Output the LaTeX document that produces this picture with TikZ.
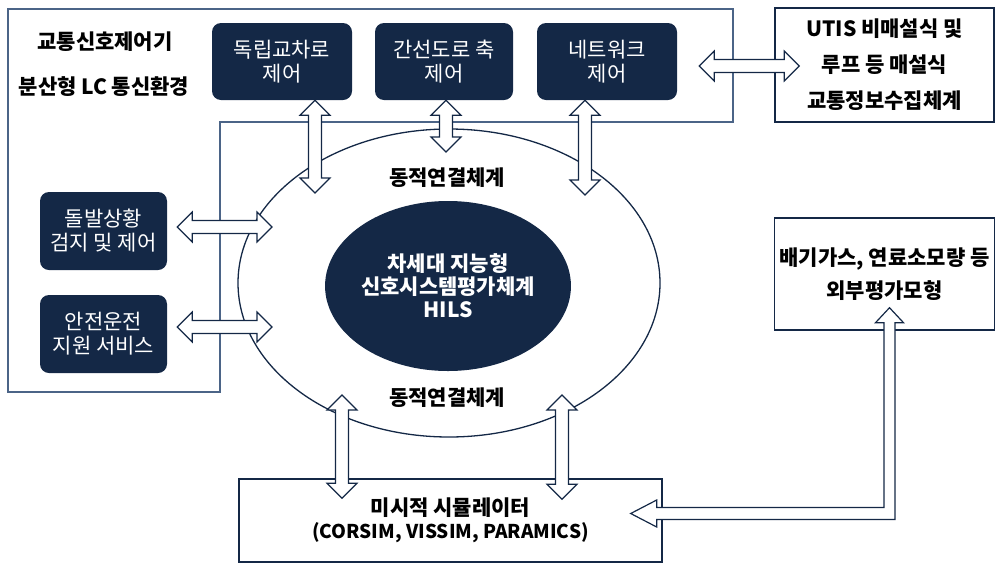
\documentclass[tikz,border=0pt]{standalone}
\usepackage{fontspec}
\setmainfont{Noto Sans CJK KR}
\usetikzlibrary{calc, shapes.geometric}
\definecolor{navy}{RGB}{20,40,70}
\definecolor{framegray}{RGB}{75,100,135}

% double block arrow between two named points
\newcommand{\blockarrow}[2]{%
  \draw[blockedge] (#1) -- ($(#1)!15pt!(#2)!15pt!90:(#2)$) -- ($(#1)!15pt!(#2)!6.5pt!90:(#2)$)
    -- ($(#2)!15pt!(#1)!6.5pt!-90:(#1)$) -- ($(#2)!15pt!(#1)!15pt!-90:(#1)$) -- (#2)
    -- ($(#2)!15pt!(#1)!15pt!90:(#1)$) -- ($(#2)!15pt!(#1)!6.5pt!90:(#1)$)
    -- ($(#1)!15pt!(#2)!6.5pt!-90:(#2)$) -- ($(#1)!15pt!(#2)!15pt!-90:(#2)$) -- cycle;}

\begin{document}
\begin{tikzpicture}[x=1pt, y=-1pt, font=\fontsize{21}{24}\selectfont]
        \tikzset{ctrlbox/.style = {fill=navy, rounded corners=9pt, text=white, align=center,
            minimum width=140, minimum height=77, inner sep=0pt}}
        \tikzset{plainbox/.style = {draw=navy, line width=1.4pt, align=center, inner sep=0pt,
            font=\fontsize{21}{24}\selectfont\bfseries}}
        \tikzset{blockedge/.style = {draw=navy, fill=white, line width=1.2pt, line join=miter}}
        \tikzset{frame/.style = {draw=framegray, line width=1.5pt}}
        \useasboundingbox (0,0) rectangle (995,563);

        % controller environment
        \draw[frame] (8,9) -- (733,9) -- (733,122) -- (220,122) -- (220,392) -- (8,392) -- cycle;
        \node[font=\fontsize{21}{24}\selectfont\bfseries] (ctrl) at (105,42) {교통신호제어기};
        \node[font=\fontsize{21}{24}\selectfont\bfseries] (lc) at (104,87) {분산형 LC 통신환경};

        % rings
        \node[ellipse, draw=navy, line width=1.3pt, minimum width=422, minimum height=308] (ring) at (449,283) {};
        \node[ellipse, fill=navy, text=white, align=center, inner sep=0pt, minimum width=236, minimum height=170,
            font=\fontsize{21}{23}\selectfont\bfseries] (core) at (448,286) {차세대 지능형\\신호시스템평가체계\\HILS};
        \node[font=\fontsize{21}{24}\selectfont\bfseries] (linkt) at (447,178) {동적연결체계};
        \node[font=\fontsize{21}{24}\selectfont\bfseries] (linkb) at (447,398) {동적연결체계};

        % control boxes
        \node[ctrlbox] (indep) at (282,61.5) {독립교차로\\제어};
        \node[ctrlbox, minimum width=138] (artery) at (444,61.5) {간선도로 축\\제어};
        \node[ctrlbox] (network) at (607,61.5) {네트워크\\제어};
        \node[ctrlbox, minimum width=127, minimum height=78] (incident) at (103.5,231) {돌발상황\\검지 및 제어};
        \node[ctrlbox, minimum width=127, minimum height=78] (safety) at (103.5,334) {안전운전\\지원 서비스};

        % outside boxes
        \node[plainbox, minimum width=219, minimum height=114, font=\fontsize{21}{36}\selectfont\bfseries] (utis) at (884.5,65)
            {UTIS 비매설식 및\\루프 등 매설식\\교통정보수집체계};
        \node[plainbox, minimum width=220, minimum height=112, font=\fontsize{21}{33}\selectfont\bfseries] (extern) at (884.5,274)
            {배기가스, 연료소모량 등\\외부평가모형};
        \node[plainbox, minimum width=423, minimum height=83, font=\fontsize{21}{23}\selectfont\bfseries] (sim) at (450.5,520.5)
            {미시적 시뮬레이터\\\fontsize{19}{23}\selectfont(CORSIM, VISSIM, PARAMICS)};

        % arrow ends
        \coordinate (d1) at (315,193);
        \coordinate (d2) at (446,152);
        \coordinate (d3) at (585,195);
        \coordinate (l1s) at ($(incident.east)+(10,-4)$);
        \coordinate (l1e) at (272,227);
        \coordinate (l2s) at ($(safety.east)+(10,-7)$);
        \coordinate (l2e) at (272,327);
        \coordinate (u1s) at ($(utis.west)+(-75,1)$);
        \coordinate (u1e) at ($(utis.west)+(25,1)$);
        \coordinate (b1s) at (342,395);
        \coordinate (b1e) at ($(sim.north)+(-108.5,20)$);
        \coordinate (b2s) at (562,395);
        \coordinate (b2e) at ($(sim.north)+(111.5,21)$);
        \coordinate (simin) at ($(sim.east)+(-32,-7)$);
        \coordinate (extin) at ($(extern.south)+(5,-23)$);
        \coordinate (bend) at (extin |- simin);

        \blockarrow{indep.south -| d1}{d1}
        \blockarrow{artery.south -| d2}{d2}
        \blockarrow{network.south -| d3}{d3}
        \blockarrow{l1s}{l1e}
        \blockarrow{l2s}{l2e}
        \blockarrow{u1s}{u1e}
        \blockarrow{b1s}{b1e}
        \blockarrow{b2s}{b2e}

        \draw[blockedge] (simin) -- ++(26,-13.5) -- ++(0,7.5) -- ($(bend)+(-5.5,-6)$) -- ($(extin)+(-5.5,15)$)
            -- ++(-8.5,0) -- (extin) -- ++(14,15) -- ++(-8.5,0) -- ($(bend)+(5.5,6)$)
            -- ($(simin)+(26,6)$) -- ++(0,7.5) -- cycle;
      \end{tikzpicture}
\end{document}
